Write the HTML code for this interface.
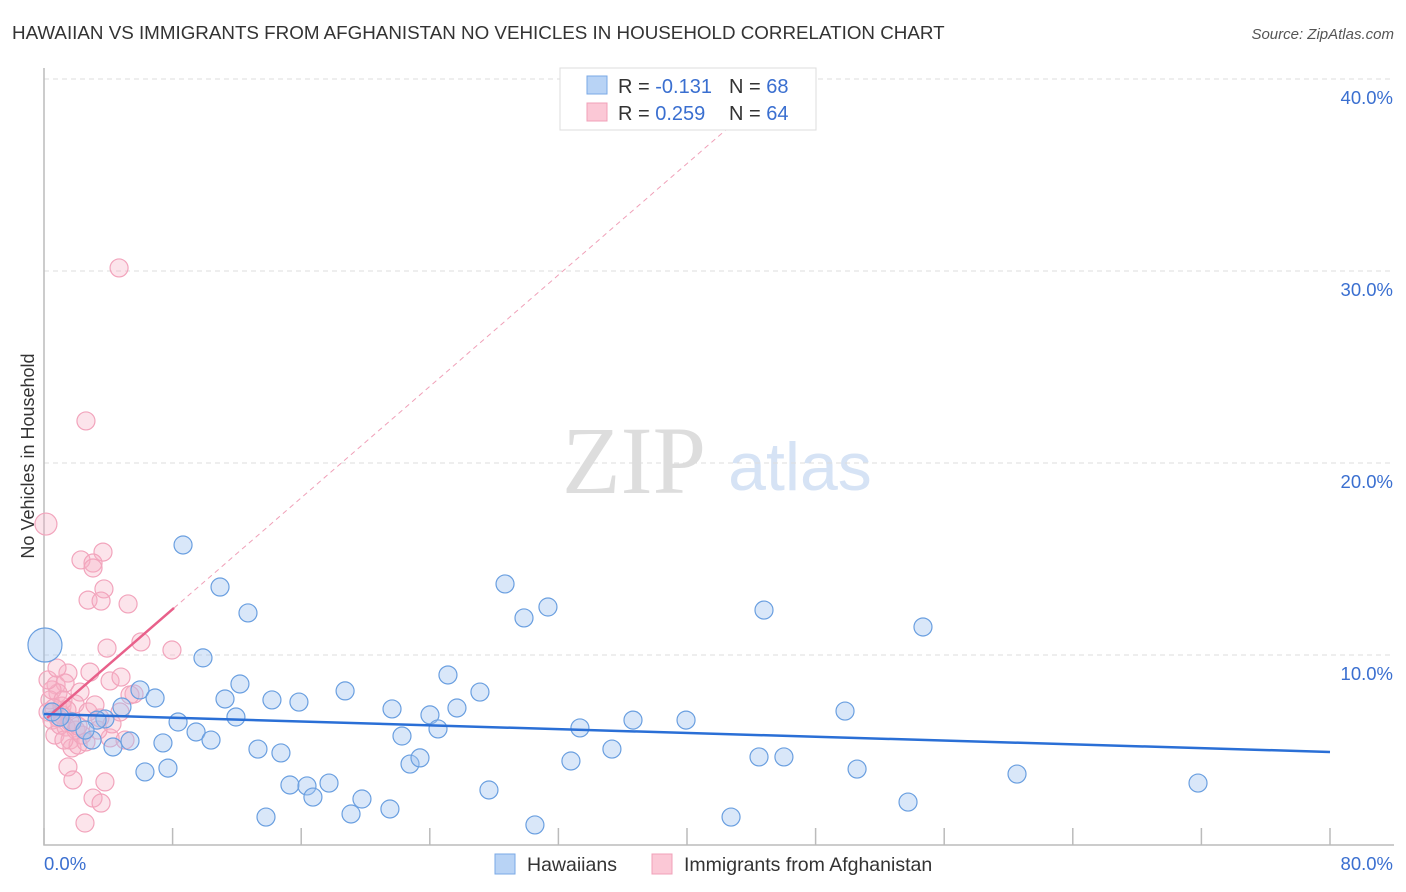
<!DOCTYPE html>
<html><head><meta charset="utf-8"><style>
body{margin:0;background:#fff;font-family:"Liberation Sans",sans-serif}
svg{display:block}
</style></head><body>
<svg id="c" width="1406" height="892">
<text x="12" y="39" font-size="18.8" fill="#333">HAWAIIAN VS IMMIGRANTS FROM AFGHANISTAN NO VEHICLES IN HOUSEHOLD CORRELATION CHART</text>
<text x="1394" y="39" font-size="15" fill="#555" font-style="italic" text-anchor="end">Source: ZipAtlas.com</text>
<text x="634" y="493" font-size="96" fill="#ddd" font-family="Liberation Serif,serif" text-anchor="middle">ZIP</text>
<text x="800" y="490" font-size="68" fill="#d6e3f5" text-anchor="middle">atlas</text>
<text transform="translate(34,456) rotate(-90)" font-size="18" fill="#333" text-anchor="middle">No Vehicles in Household</text>
<g id="grid"></g><g id="marks"></g>
<g>
<rect x="560" y="68" width="256" height="62" fill="#fff" stroke="#ddd"/>
<rect x="587" y="76" width="20" height="18" fill="#b8d3f5" stroke="#7aa8e6"/>
<rect x="587" y="103" width="20" height="18" fill="#fbc8d6" stroke="#f0a0b8"/>
<text x="618" y="93" font-size="20" fill="#333">R = <tspan fill="#3a6fd0">-0.131</tspan></text>
<text x="729" y="93" font-size="20" fill="#333">N = <tspan fill="#3a6fd0">68</tspan></text>
<text x="618" y="120" font-size="20" fill="#333">R = <tspan fill="#3a6fd0">0.259</tspan></text>
<text x="729" y="120" font-size="20" fill="#333">N = <tspan fill="#3a6fd0">64</tspan></text>
</g>
<g>
<rect x="495" y="854" width="20" height="20" fill="#b8d3f5" stroke="#7aa8e6"/>
<text x="527" y="871" font-size="19.5" fill="#333">Hawaiians</text>
<rect x="652" y="854" width="20" height="20" fill="#fbc8d6" stroke="#f0a0b8"/>
<text x="684" y="871" font-size="19.5" fill="#333">Immigrants from Afghanistan</text>
</g>
</svg>
<script>
const yTicks=[10,20,30,40];
const yTickLabels=["10.0%","20.0%","30.0%","40.0%"];
const xTicks=[0,8,16,24,32,40,48,56,64,72,80];
const blueX=[8.65,10.95,12.69,9.89,28.68,29.86,31.35,44.79,54.68,5.97,6.91,8.34,9.46,10.39,11.26,12.19,11.94,14.18,15.86,13.31,14.74,18.73,21.65,22.27,22.77,23.39,25.13,24.01,24.51,25.69,27.12,27.68,13.81,15.30,16.36,16.73,17.73,19.10,19.78,21.52,30.54,32.78,33.34,35.33,36.64,39.94,42.74,44.48,46.03,49.83,50.58,53.75,60.53,71.79,6.28,7.71,7.40,5.35,4.29,2.99,3.79,4.85,3.30,1.74,1.00,0.06,2.55,0.50];
const blueY=[15.73,13.54,12.19,9.85,13.70,11.93,12.50,12.34,11.46,8.18,7.76,6.51,5.99,5.57,7.71,8.49,6.77,7.66,7.55,5.10,4.90,8.13,7.19,5.78,4.32,4.64,8.96,6.88,6.15,7.24,8.07,2.97,1.56,3.23,3.18,2.60,3.33,1.72,2.50,1.98,1.15,4.48,6.20,5.10,6.61,6.61,1.56,4.69,4.69,7.08,4.06,2.34,3.80,3.33,3.91,4.11,5.42,5.52,5.21,5.57,6.67,7.29,6.61,6.51,6.77,10.52,6.09,7.03];
const pinkX=[4.67,2.61,0.12,2.30,3.67,3.05,3.05,3.73,2.74,3.55,5.23,3.92,6.03,7.96,1.49,2.86,0.75,1.31,4.11,4.79,5.60,2.24,0.87,0.37,0.25,0.50,0.68,1.12,1.37,1.62,1.74,1.49,1.80,3.05,3.55,2.55,3.79,3.48,4.11,5.04,2.12,0.87,1.12,1.93,2.74,3.17,0.50,0.25,0.81,1.18,1.43,1.62,1.99,2.36,1.00,0.62,1.24,2.12,2.61,3.36,4.23,4.73,5.35];
const pinkY=[30.16,22.19,16.82,14.95,15.36,14.79,14.53,13.44,12.86,12.81,12.66,10.36,10.68,10.26,9.06,9.11,8.44,8.54,8.65,8.85,7.97,8.07,8.02,7.66,7.03,6.61,5.83,6.88,6.25,5.57,5.16,4.17,3.49,2.55,2.29,1.25,3.39,6.72,5.68,5.57,5.31,6.72,7.34,7.45,7.03,7.40,8.18,8.70,9.32,7.66,7.14,6.51,6.09,5.83,6.35,7.24,5.57,6.30,5.47,6.09,6.41,7.03,7.92];
const blueTrend=[0,6.93,80,4.95];
const pinkTrend=[0.19,6.72,8.09,12.45];
const X=v=>44+v/80*1286, Y=v=>847-v*19.2;
const NS="http://www.w3.org/2000/svg";
const grid=document.getElementById('grid'), marks=document.getElementById('marks');
function mk(p,tag,a){const e=document.createElementNS(NS,tag);for(const k in a)e.setAttribute(k,a[k]);p.appendChild(e);return e;}
yTicks.forEach((t,i)=>{
 const l=mk(grid,'line',{x1:44,x2:1394,y1:Y(t),y2:Y(t),stroke:'#ddd','stroke-dasharray':'5,4'});
 
 
 const tx=mk(grid,'text',{x:1393,y:Y(t)+25,'font-size':18.5,fill:'#3a6fd0','text-anchor':'end'});
 tx.textContent=yTickLabels[i];
 
 
});
const ax=mk(grid,'path',{d:'M44,68V845H1394',fill:'none',stroke:'#bbb','stroke-width':1.5});


xTicks.forEach(t=>{
 const l=mk(grid,'line',{x1:X(t),x2:X(t),y1:828,y2:845,stroke:'#bbb','stroke-width':1.5});
 
 
});
const x0=mk(grid,'text',{x:44,y:870,'font-size':18.5,fill:'#3a6fd0'});x0.textContent='0.0%';


const x1=mk(grid,'text',{x:1393,y:870,'font-size':18.5,fill:'#3a6fd0','text-anchor':'end'});x1.textContent='80.0%';


pinkX.forEach((v,i)=>{
 const c=mk(marks,'circle',{cx:X(v),cy:Y(pinkY[i]),r:(v<0.2&&pinkY[i]>15)?11:9,fill:'rgba(246,178,198,0.35)',stroke:'#f2a4bc','stroke-width':1.2});
 
 
});
blueX.forEach((v,i)=>{
 const c=mk(marks,'circle',{cx:X(v),cy:Y(blueY[i]),r:(v<0.1&&blueY[i]>10)?17:9,fill:'rgba(160,196,240,0.4)',stroke:'#6a9fe0','stroke-width':1.2});
 
 
});
const slope=(pinkTrend[3]-pinkTrend[1])/(pinkTrend[2]-pinkTrend[0]);
const xTop=pinkTrend[2]+(40-pinkTrend[3])/slope;
const pd=mk(marks,'line',{x1:X(pinkTrend[2]),y1:Y(pinkTrend[3]),x2:X(xTop),y2:Y(40),stroke:'#f0a0b8','stroke-dasharray':'5,4'});


const pl=mk(marks,'line',{x1:X(pinkTrend[0]),y1:Y(pinkTrend[1]),x2:X(pinkTrend[2]),y2:Y(pinkTrend[3]),stroke:'#e8608a','stroke-width':2.5});


const bl=mk(marks,'line',{x1:X(blueTrend[0]),y1:Y(blueTrend[1]),x2:X(blueTrend[2]),y2:Y(blueTrend[3]),stroke:'#2a6fd6','stroke-width':2.5});


</script>
</body></html>
